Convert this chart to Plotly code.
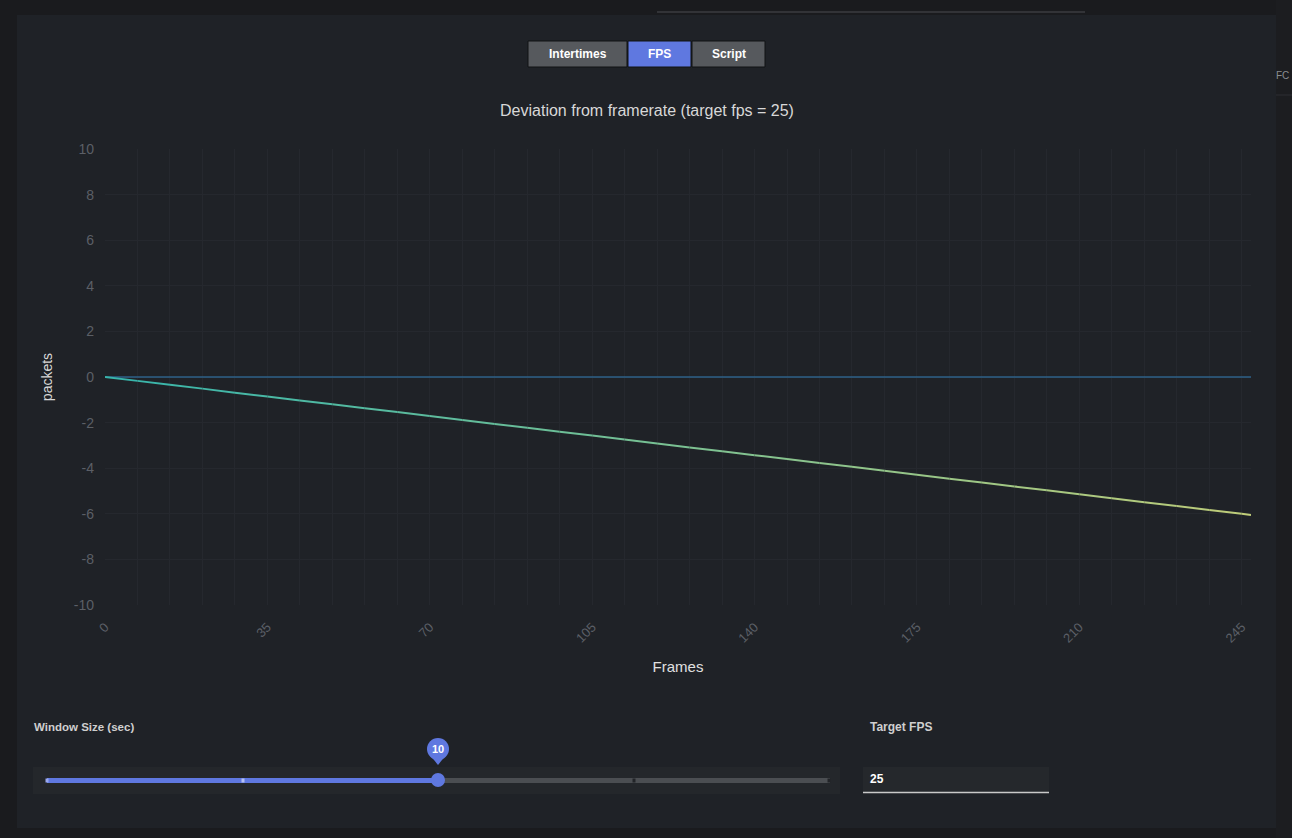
import plotly.graph_objects as go

# 数据
frames = [0, 7, 14, 21, 28, 35, 42, 49, 56, 63, 70, 77, 84, 91, 98, 105, 112, 119,
          126, 133, 140, 147, 154, 161, 168, 175, 182, 189, 196, 203, 210, 217, 224,
          231, 238, 245, 247]
deviation = [0, -0.17, -0.34, -0.51, -0.69, -0.86, -1.03, -1.2, -1.37, -1.54, -1.71,
             -1.89, -2.06, -2.23, -2.4, -2.57, -2.74, -2.92, -3.09, -3.26, -3.43, -3.6,
             -3.77, -3.94, -4.11, -4.29, -4.46, -4.63, -4.8, -4.97, -5.14, -5.32, -5.49,
             -5.66, -5.83, -6.0, -6.05]
target_x = [0, 247]
target_y = [0, 0]

y_tick_vals = [10, 8, 6, 4, 2, 0, -2, -4, -6, -8, -10]
y_tick_text = ['10', '8', '6', '4', '2', '0', '-2', '-4', '-6', '-8', '-10']

tab_labels = ['Intertimes', 'FPS', 'Script']
window_size = 10
target_fps = 25

W, H = 1292, 838
L, R, T, B = 105, 1251, 149, 605

colors = {
    'page': '#1a1b1e',
    'card': '#1f2227',
    'grid': '#25282e',
    'tick': '#5b5f66',
    'text': '#d6d6d6',
    'blue': '#5f78e0',
    'gray_btn': '#56595d',
    'zero': '#2e6088',
}


def px(x):
    return (x - L) / (R - L)


def py(y):
    return (B - y) / (B - T)


def mix(c1, c2, t):
    a = [int(c1[i:i + 2], 16) for i in (1, 3, 5)]
    b = [int(c2[i:i + 2], 16) for i in (1, 3, 5)]
    return 'rgb(%d,%d,%d)' % tuple(round(a[k] + (b[k] - a[k]) * t) for k in range(3))


fig = go.Figure()

# 目标线
fig.add_trace(go.Scatter(x=target_x, y=target_y, mode='lines',
                         line=dict(color=colors['zero'], width=1.5),
                         hoverinfo='skip', showlegend=False))

# 偏差曲线 (渐变色分段)
n = len(frames) - 1
for i in range(n):
    fig.add_trace(go.Scatter(
        x=frames[i:i + 2], y=deviation[i:i + 2], mode='lines',
        line=dict(color=mix('#36b5ac', '#c2cd78', (i + 0.5) / n), width=2),
        showlegend=False))

shapes = []
annotations = []


def rect(x0, y0, x1, y1, fill, line=None, layer='below'):
    shapes.append(dict(type='rect', xref='paper', yref='paper',
                       x0=px(x0), x1=px(x1), y0=py(y0), y1=py(y1),
                       fillcolor=fill, layer=layer,
                       line=dict(width=1 if line else 0, color=line or fill)))


def seg(x0, y0, x1, y1, color, width=1):
    shapes.append(dict(type='line', xref='paper', yref='paper',
                       x0=px(x0), x1=px(x1), y0=py(y0), y1=py(y1),
                       line=dict(color=color, width=width), layer='above'))


def label(x, y, text, size=12, color='#ffffff', xanchor='center'):
    annotations.append(dict(x=px(x), y=py(y), xref='paper', yref='paper',
                            xanchor=xanchor, yanchor='middle', text=text,
                            showarrow=False, font=dict(color=color, size=size)))


# 卡片背景
rect(17, 15, 1276, 828, colors['card'])
rect(1276, 0, 1292, 838, '#1c1d20')
seg(1276, 95, 1292, 95, '#2c2e32')
seg(657, 12, 1085, 12, '#4a4c50')

# 标签按钮
btns = [(528, 627), (628, 691), (692, 765)]
for (x0, x1), lab in zip(btns, tab_labels):
    rect(x0, 41, x1, 67, colors['blue'] if lab == 'FPS' else colors['gray_btn'],
         line='#111214', layer='above')
    label((x0 + x1) / 2, 54, '<b>%s</b>' % lab)

# 滑块
rect(33, 767, 840, 794, '#24272b')
rect(47, 778, 438, 783, colors['blue'])
rect(438, 778, 830, 783, '#4b4e52')
for xd, c in [(47, '#9aa8ee'), (243, '#b6c1f2'), (634, '#222428'), (829, '#222428')]:
    rect(xd - 1.5, 778.5, xd + 1.5, 782.5, c, layer='above')
shapes.append(dict(type='circle', xref='paper', yref='paper',
                   x0=px(431), x1=px(445), y0=py(773), y1=py(787),
                   fillcolor=colors['blue'], line=dict(width=0), layer='above'))
# 气泡
bx, by = 438, 749
shapes.append(dict(type='path', xref='paper', yref='paper', layer='above',
                   path='M %f %f L %f %f L %f %f Z' % (px(bx - 8), py(by + 6), px(bx + 8), py(by + 6),
                                                    px(bx), py(by + 16)),
                   fillcolor=colors['blue'], line=dict(width=0)))
shapes.append(dict(type='circle', xref='paper', yref='paper', layer='above',
                   x0=px(bx - 11), x1=px(bx + 11), y0=py(by - 11), y1=py(by + 11),
                   fillcolor=colors['blue'], line=dict(width=0)))
label(bx, by, '<b>%d</b>' % window_size, size=11)

# 输入框
rect(863, 767, 1049, 793, '#25282c')
seg(863, 792.5, 1049, 792.5, '#c9c9c9', 1.5)
label(868, 779, '<b>%d</b>' % target_fps, xanchor='left')

label(32, 727, '<b>Window Size (sec)</b>', size=11.5, color='#cfcfcf', xanchor='left')
label(868, 727, '<b>Target FPS</b>', size=12, color='#cfcfcf', xanchor='left')
label(1291, 75, 'FC', size=10, color='#8a8d92', xanchor='right')

fig.update_layout(
    width=W, height=H,
    paper_bgcolor=colors['page'],
    plot_bgcolor=colors['card'],
    margin=dict(l=L, r=W - R, t=T, b=H - B),
    font=dict(family='Liberation Sans, Arial, sans-serif', color=colors['text']),
    title=dict(text='Deviation from framerate (target fps = 25)', x=647 / W, xanchor='center',
               y=1 - 110 / H, yanchor='middle', font=dict(size=16, color='#d8d8d8')),
    shapes=shapes,
    annotations=annotations,
    showlegend=False,
    hovermode='closest',
)

fig.update_xaxes(
    range=[0, 247], dtick=35, tick0=0, tickangle=-45,
    showgrid=True, gridcolor=colors['grid'], gridwidth=1,
    minor=dict(dtick=7, showgrid=True, gridcolor=colors['grid'], gridwidth=1),
    zeroline=False, showline=False, ticks='', ticklabelstandoff=11,
    tickfont=dict(color=colors['tick'], size=13),
    title=dict(text='Frames', font=dict(color='#e0e0e0', size=15), standoff=16),
)

fig.update_yaxes(
    range=[-10, 10], tickvals=y_tick_vals, ticktext=y_tick_text,
    showgrid=True, gridcolor=colors['grid'], gridwidth=1,
    zeroline=False, showline=False, ticks='', ticklabelstandoff=10,
    tickfont=dict(color=colors['tick'], size=14),
    title=dict(text='packets', font=dict(color='#d6d6d6', size=14), standoff=17),
)

fig.write_html("out.html", config={'displayModeBar': False},
               post_script="document.body.style.margin='0';document.body.style.overflow='hidden';")
